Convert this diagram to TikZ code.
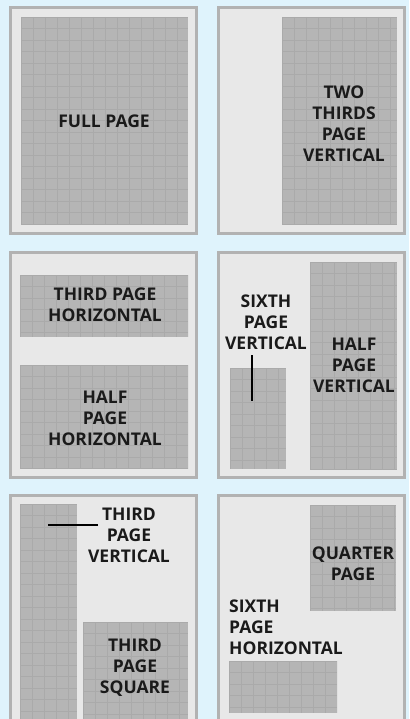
\documentclass[tikz,border=0pt]{standalone}
\usepackage{fontspec}
\setmainfont{Open Sans}
\usepackage{xcolor}
\definecolor{skyback}{HTML}{DFF3FC}
\definecolor{pagefill}{HTML}{E8E8E8}
\definecolor{pageedge}{HTML}{B2B2B2}
\definecolor{adfill}{HTML}{B5B5B5}
\definecolor{adgrid}{HTML}{AAAAAA}
\definecolor{labelink}{HTML}{1A1A1A}

% grey ad space with its grid: x1, y1, x2, y2
\newcommand{\adspace}[4]{%
    \fill[adfill] (#1,#2) rectangle (#3,#4);
    \begin{scope}
        \clip (#1,#2) rectangle (#3,#4);
        \foreach \gx in {0,12,...,240} {\draw[gridline] ({#1+\gx},#2) -- ({#1+\gx},#4);}
        \foreach \gy in {0,11.5,...,240} {\draw[gridline] (#1,{#2+\gy}) -- (#3,{#2+\gy});}
    \end{scope}
}

\begin{document}
\begin{tikzpicture}[x=1pt, y=-1pt,
    page/.style={fill=pagefill, draw=pageedge, line width=3pt},
    gridline/.style={draw=adgrid, line width=0.6pt},
    adlabel/.style={text=labelink, align=center, inner sep=0pt,
        font=\bfseries\fontsize{17.5}{21}\selectfont},
    leader/.style={draw=black, line width=2pt}]
    \fill[skyback] (0,0) rectangle (409,719);
    \useasboundingbox (0,0) rectangle (409,719);
    \clip (0,0) rectangle (409,719);

    % the six pages
    \foreach \px/\py in {10/8, 218/8, 10/252, 218/252, 10/495, 218/495} {
        \draw[page] (\px,\py) rectangle ({\px+186},{\py+225});
    }

    % full page
    \adspace{21}{17}{188}{225}
    \node[adlabel] (full) at (104,121) {FULL PAGE};

    % two thirds page vertical
    \adspace{282}{17}{397}{225}
    \node[adlabel] (twothirds) at (344,124) {TWO\\THIRDS\\PAGE\\VERTICAL};

    % third page horizontal, half page horizontal
    \adspace{20}{275}{188}{337}
    \adspace{20}{365}{188}{469}
    \node[adlabel] (thirdhor) at (105,305) {THIRD PAGE\\HORIZONTAL};
    \node[adlabel] (halfhor) at (105,418) {HALF\\PAGE\\HORIZONTAL};

    % sixth page vertical, half page vertical
    \adspace{310}{262}{397}{469}
    \adspace{230}{368}{286}{469}
    \node[adlabel] (sixthver) at (266,322) {SIXTH\\PAGE\\VERTICAL};
    \node[adlabel] (halfver) at (354,365) {HALF\\PAGE\\VERTICAL};
    \coordinate (sixthtop) at (252,355);
    \coordinate (sixthend) at (252,401);
    \draw[leader] (sixthtop) -- (sixthend);

    % third page vertical, third page square
    \adspace{20}{504}{77}{721}
    \adspace{83}{622}{188}{721}
    \node[adlabel] (thirdver) at (129,535) {THIRD\\PAGE\\VERTICAL};
    \node[adlabel] (thirdsq) at (135,668) {THIRD\\PAGE\\SQUARE};
    \coordinate (thirdtop) at (98,525);
    \coordinate (thirdend) at (48,525);
    \draw[leader] (thirdtop) -- (thirdend);

    % quarter page, sixth page horizontal
    \adspace{310}{505}{396}{611}
    \adspace{229}{661}{337}{713}
    \node[adlabel] (quarter) at (353,564) {QUARTER\\PAGE};
    \node[adlabel, anchor=west, align=left] (sixthhor) at (229,627) {SIXTH\\PAGE\\HORIZONTAL};
\end{tikzpicture}
\end{document}
